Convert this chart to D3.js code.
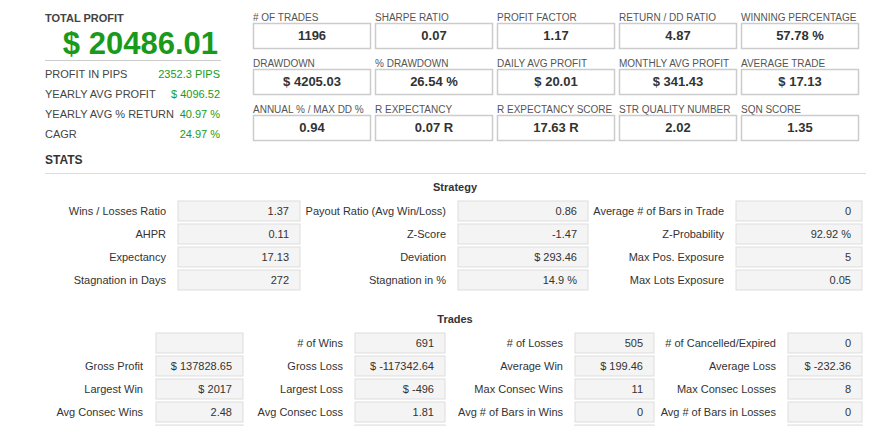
<!DOCTYPE html>
<html><head><meta charset="utf-8">
<script src="https://cdn.jsdelivr.net/npm/d3@7"></script>
<style>body{margin:0;background:#fff}svg{font-family:"Liberation Sans",Arial,sans-serif}</style>
</head><body><svg id="c" width="891" height="426"></svg>
<script>
const totalProfit = "$ 20486.01";
const summaryLabels = ["PROFIT IN PIPS","YEARLY AVG PROFIT","YEARLY AVG % RETURN","CAGR"];
const summaryValues = ["2352.3 PIPS","$ 4096.52","40.97 %","24.97 %"];
const metricLabels = ["# OF TRADES","SHARPE RATIO","PROFIT FACTOR","RETURN / DD RATIO","WINNING PERCENTAGE",
 "DRAWDOWN","% DRAWDOWN","DAILY AVG PROFIT","MONTHLY AVG PROFIT","AVERAGE TRADE",
 "ANNUAL % / MAX DD %","R EXPECTANCY","R EXPECTANCY SCORE","STR QUALITY NUMBER","SQN SCORE"];
const metricValues = ["1196","0.07","1.17","4.87","57.78 %","$ 4205.03","26.54 %","$ 20.01","$ 341.43","$ 17.13",
 "0.94","0.07 R","17.63 R","2.02","1.35"];
const strategyLabels = [["Wins / Losses Ratio","Payout Ratio (Avg Win/Loss)","Average # of Bars in Trade"],
 ["AHPR","Z-Score","Z-Probability"],["Expectancy","Deviation","Max Pos. Exposure"],
 ["Stagnation in Days","Stagnation in %","Max Lots Exposure"]];
const strategyValues = [["1.37","0.86","0"],["0.11","-1.47","92.92 %"],["17.13","$ 293.46","5"],["272","14.9 %","0.05"]];
const tradeLabels = [["","# of Wins","# of Losses","# of Cancelled/Expired"],
 ["Gross Profit","Gross Loss","Average Win","Average Loss"],
 ["Largest Win","Largest Loss","Max Consec Wins","Max Consec Losses"],
 ["Avg Consec Wins","Avg Consec Loss","Avg # of Bars in Wins","Avg # of Bars in Losses"]];
const tradeValues = [["","691","505","0"],["$ 137828.65","$ -117342.64","$ 199.46","$ -232.36"],
 ["$ 2017","$ -496","11","8"],["2.48","1.81","0","0"]];

const svg = d3.select("#c");
const green="#1a9a1a", txt="#444";
svg.append("text").attr("x",45).attr("y",22).attr("font-size",11).attr("font-weight","bold").attr("fill",txt).text("TOTAL PROFIT");
svg.append("text").attr("x",218).attr("y",54).attr("text-anchor","end").attr("font-size",31).attr("font-weight","bold").attr("fill",green).text(totalProfit);
svg.append("line").attr("x1",45).attr("x2",221).attr("y1",60.5).attr("y2",60.5).attr("stroke","#ccc");
const sy = d3.scalePoint().domain(summaryLabels).range([74,134]);
summaryLabels.forEach((l,i)=>{
  svg.append("text").attr("x",45).attr("y",sy(l)+4).attr("font-size",11).attr("fill",txt).text(l);
  svg.append("text").attr("x",220).attr("y",sy(l)+4).attr("text-anchor","end").attr("font-size",11).attr("fill",green).text(summaryValues[i]);
});
const mx = d3.scaleLinear().domain([0,4]).range([253,741]);
const my = d3.scaleLinear().domain([0,2]).range([23,115]);
metricLabels.forEach((l,i)=>{
  const c=i%5, r=Math.floor(i/5), x=mx(c), y=my(r);
  svg.append("text").attr("x",x).attr("y",y-2).attr("font-size",10).attr("fill","#555").text(l);
  svg.append("rect").attr("x",x+0.5).attr("y",y+0.5).attr("width",117).attr("height",25).attr("fill","#fff").attr("stroke","#ccc").attr("stroke-width",1.5);
  svg.append("text").attr("x",x+59).attr("y",y+17).attr("text-anchor","middle").attr("font-size",13).attr("font-weight","bold").attr("fill","#333").text(metricValues[i]);
});
svg.append("text").attr("x",45).attr("y",164).attr("font-size",12).attr("font-weight","bold").attr("fill","#333").text("STATS");
svg.append("line").attr("x1",45).attr("x2",866).attr("y1",173.5).attr("y2",173.5).attr("stroke","#ddd");

function grid(title,ty,labels,values,labelRights,boxes,top){
  svg.append("text").attr("x",455).attr("y",ty+4).attr("text-anchor","middle").attr("font-size",11).attr("font-weight","bold").attr("fill","#333").text(title);
  const ry=d3.scaleLinear().domain([0,1]).range([top,top+23]);
  labels.forEach((row,r)=>row.forEach((l,c)=>{
    const y=ry(r), b=boxes[c];
    svg.append("rect").attr("x",b[0]).attr("y",y).attr("width",b[1]-b[0]).attr("height",20).attr("fill","#f4f4f4").attr("stroke","#ddd");
    svg.append("text").attr("x",labelRights[c]).attr("y",y+14).attr("text-anchor","end").attr("font-size",11).attr("fill","#333").text(l);
    svg.append("text").attr("x",b[1]-11).attr("y",y+14).attr("text-anchor","end").attr("font-size",11).attr("fill","#333").text(values[r][c]);
  }));
}
grid("Strategy",187,strategyLabels,strategyValues,[166,446,724],[[178,300],[458,588],[736,862]],201);
const tradeBoxes=[[156,243],[355,445],[575,654],[788,862]];
grid("Trades",319,tradeLabels,tradeValues,[143,343,563,776],tradeBoxes,333);
tradeBoxes.forEach(b=>svg.append("rect").attr("x",b[0]).attr("y",425).attr("width",b[1]-b[0]).attr("height",20).attr("fill","#f4f4f4").attr("stroke","#ddd"));
</script></body></html>
